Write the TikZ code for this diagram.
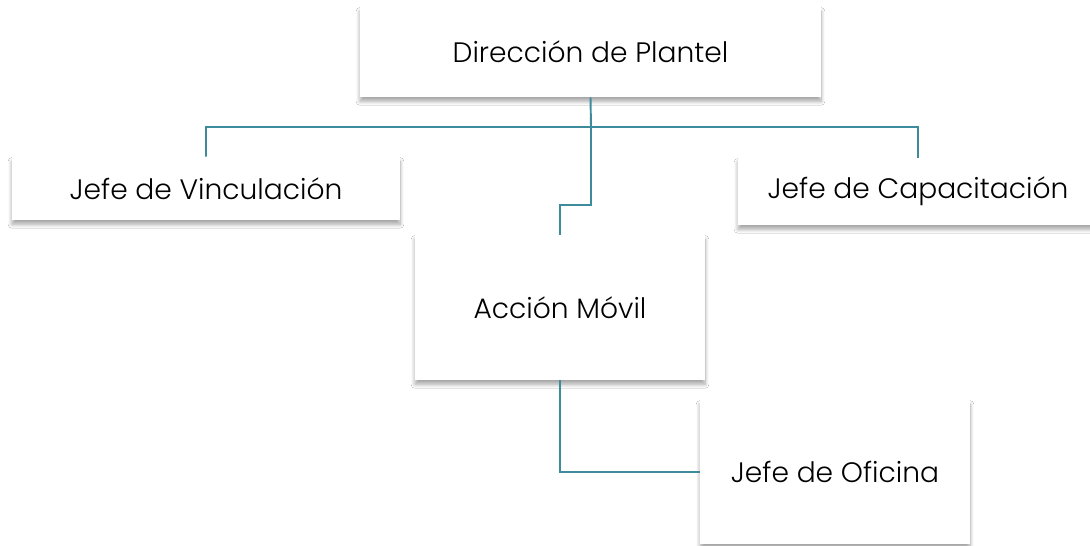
\documentclass[tikz,border=0pt]{standalone}
\usepackage{fontspec}
\setmainfont{Poppins}[UprightFont=* Light]
\usetikzlibrary{shadows.blur}
\definecolor{azulverde}{RGB}{62,139,158}
\tikzset{
  puesto/.style={rectangle, fill=white, inner sep=0pt, align=center,
    font=\fontsize{16}{19}\selectfont,
    blur shadow={shadow xshift=0pt, shadow yshift=-2.5pt, shadow blur steps=8, shadow opacity=35}},
  linea/.style={draw=azulverde, line width=1.1pt}
}
\begin{document}
\begin{tikzpicture}
\useasboundingbox [fill=white] (0,0) rectangle (21.8,-10.9);

\node [puesto, minimum width=9.22cm, minimum height=1.8cm] (dir) at (11.81,-1.04) {Dirección de Plantel};
\node [puesto, minimum width=7.76cm, minimum height=1.26cm] (vinc) at (4.12,-3.77) {Jefe de Vinculación};
\node [puesto, minimum width=7.2cm, minimum height=1.34cm] (cap) at (18.36,-3.83) {Jefe de Capacitación};
\node [puesto, minimum width=5.8cm, minimum height=2.9cm] (acc) at (11.2,-6.15) {Acción Móvil};
\node [puesto, minimum width=5.4cm, minimum height=2.88cm] (ofi) at (16.7,-9.44) {Jefe de Oficina};

% conectores
\coordinate (barra) at (11.82,-2.54);
\draw [linea] (dir.south) -- (barra) -| (vinc.north);
\draw [linea] (barra) -| (cap.north);
\draw [linea] (barra) -- ++(0,-1.56) -| (acc.north);
\draw [linea] (acc.south) |- (ofi.west);

\end{tikzpicture}
\end{document}
